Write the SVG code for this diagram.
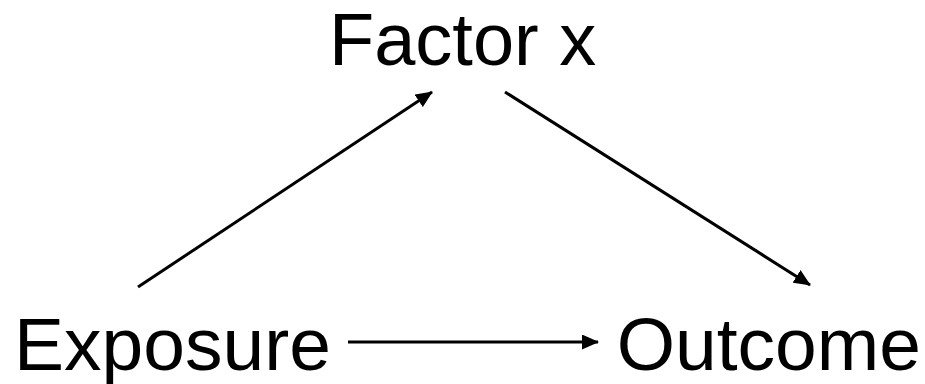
<svg xmlns="http://www.w3.org/2000/svg" width="925" height="384" viewBox="0 0 925 384">
  <defs>
    <style>
      .label { font-family: "Liberation Sans", Arial, sans-serif; font-size: 74px; fill: #000; }
      .edge { stroke: #000; stroke-width: 3; fill: none; marker-end: url(#arrow); }
    </style>
    <marker id="arrow" viewBox="0 0 17 15" refX="16" refY="7.5" markerWidth="17" markerHeight="15" markerUnits="userSpaceOnUse" orient="auto">
      <path d="M0,0 L17,7.5 L0,15 Z" fill="#000"/>
    </marker>
  </defs>

  <rect width="925" height="384" fill="#fff"/>

  <g id="connectors">
    <line class="edge" x1="138" y1="287" x2="432" y2="92"/>
    <line class="edge" x1="505" y1="92" x2="810" y2="285"/>
    <line class="edge" x1="348" y1="342" x2="598" y2="342"/>
  </g>

  <g id="factor-x">
    <text class="label" x="329" y="65">Factor x</text>
  </g>
  <g id="exposure">
    <text class="label" x="14" y="370" style="font-size:75px">Exposure</text>
  </g>
  <g id="outcome">
    <text class="label" x="921" y="370" text-anchor="end" style="font-size:75px">Outcome</text>
  </g>
</svg>
